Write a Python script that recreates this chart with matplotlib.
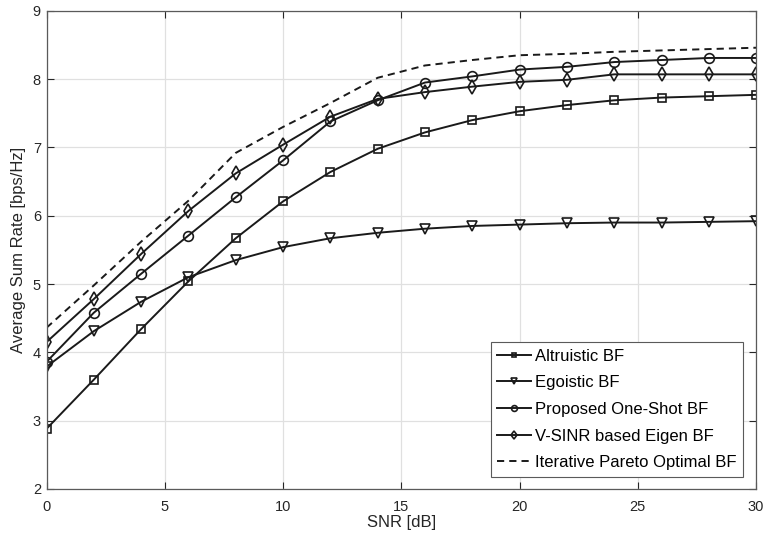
import matplotlib
matplotlib.use("Agg")
import matplotlib.pyplot as plt

snr = [0, 2, 4, 6, 8, 10, 12, 14, 16, 18, 20, 22, 24, 26, 28, 30]
altruistic = [2.88, 3.60, 4.34, 5.04, 5.67, 6.21, 6.64, 6.98, 7.22, 7.40, 7.53, 7.62, 7.69, 7.73, 7.75, 7.77]
egoistic = [3.79, 4.31, 4.74, 5.10, 5.35, 5.54, 5.67, 5.75, 5.81, 5.85, 5.87, 5.89, 5.90, 5.90, 5.91, 5.92]
proposed = [3.86, 4.58, 5.15, 5.71, 6.27, 6.81, 7.38, 7.69, 7.95, 8.04, 8.14, 8.18, 8.25, 8.28, 8.31, 8.31]
vsinr = [4.15, 4.78, 5.44, 6.07, 6.62, 7.04, 7.45, 7.71, 7.81, 7.89, 7.96, 7.99, 8.07, 8.07, 8.07, 8.07]
pareto = [4.36, 4.98, 5.62, 6.22, 6.92, 7.30, 7.65, 8.02, 8.20, 8.28, 8.35, 8.37, 8.40, 8.42, 8.44, 8.46]

labels = ["Altruistic BF", "Egoistic BF", "Proposed One-Shot BF",
          "V-SINR based Eigen BF", "Iterative Pareto Optimal BF"]

plt.rcParams['font.family'] = ['Liberation Sans', 'DejaVu Sans']

fig = plt.figure(figsize=(7.63, 5.42), dpi=100)
ax = fig.add_axes([0.061, 0.098, 0.930, 0.882])

lc = '#1a1a1a'
common = dict(color=lc, linewidth=1.4, markerfacecolor='none', markeredgecolor=lc,
              markeredgewidth=1.2)
ax.plot(snr, altruistic, marker='s', markersize=6, label=labels[0], **common)
ax.plot(snr, egoistic, marker='v', markersize=7, label=labels[1], **common)
ax.plot(snr, proposed, marker='o', markersize=7, label=labels[2], **common)
ax.plot(snr, vsinr, marker='d', markersize=7.5, label=labels[3], **common)
ax.plot(snr, pareto, linestyle=(0, (3.7, 2.6)), color=lc, linewidth=1.4, label=labels[4])

ax.set_xlim(0, 30)
ax.set_ylim(2, 9)
ax.set_xticks([0, 5, 10, 15, 20, 25, 30])
ax.set_yticks([2, 3, 4, 5, 6, 7, 8, 9])
ax.grid(True, color='#e0e0e0', linewidth=0.9)
ax.set_axisbelow(True)

ax.tick_params(direction='in', top=True, right=True, length=5, width=0.8,
               colors='#262626', labelsize=10.5)
ax.tick_params(axis='x', pad=8)
ax.tick_params(axis='y', pad=4)
for s in ax.spines.values():
    s.set_color('#5a5a5a')
    s.set_linewidth(0.9)

ax.set_xlabel("SNR [dB]", fontsize=12, color='#262626', labelpad=1)
ax.set_ylabel("Average Sum Rate [bps/Hz]", fontsize=12, color='#262626', labelpad=5)

leg = ax.legend(loc='lower right', bbox_to_anchor=(0.9817, 0.025), fontsize=12,
                frameon=True, fancybox=False, handlelength=2.0, handletextpad=0.25,
                borderpad=0.4, borderaxespad=0.0, labelspacing=0.7, markerscale=0.6)
leg.get_frame().set_edgecolor('#5a5a5a')
leg.get_frame().set_linewidth(0.8)
leg.get_frame().set_alpha(1.0)

fig.savefig("out.png", dpi=100)
